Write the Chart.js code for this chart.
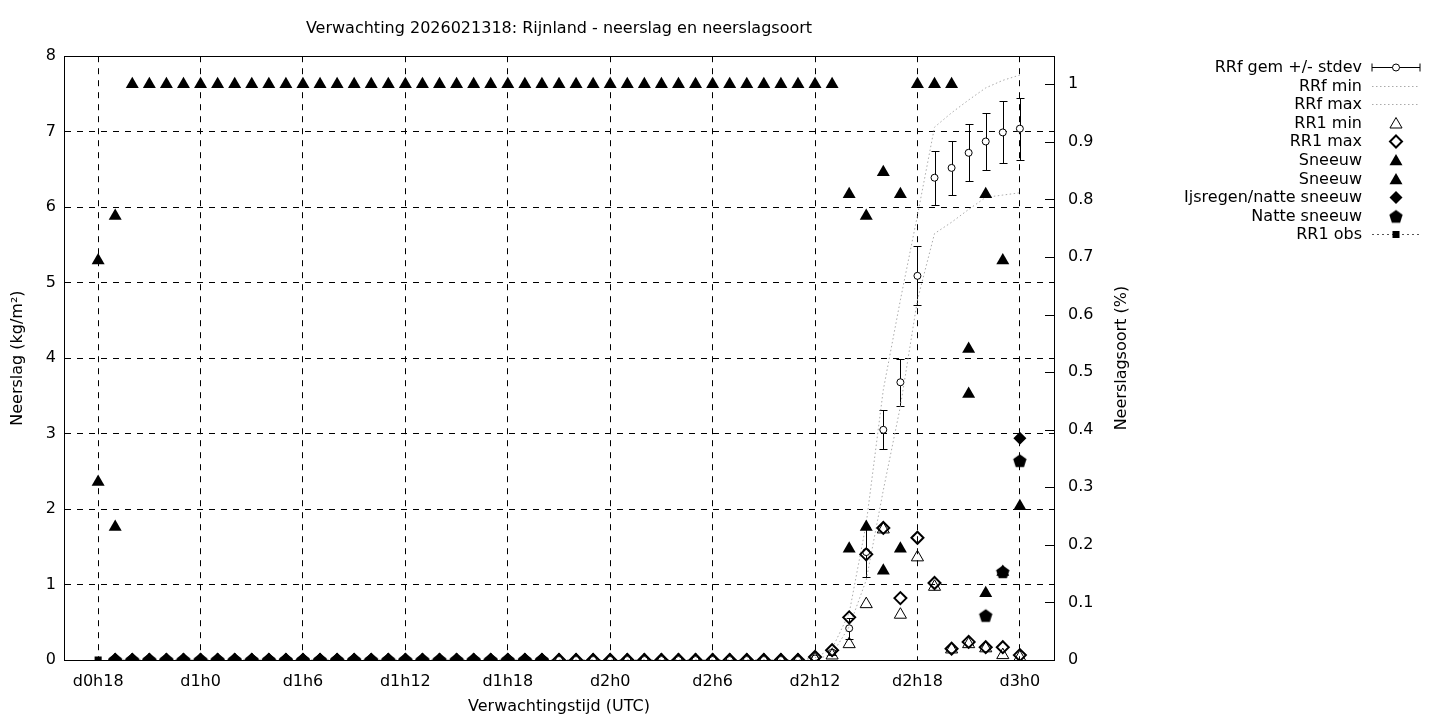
<!DOCTYPE html>
<html>
<head>
<meta charset="utf-8">
<script src="https://cdn.jsdelivr.net/npm/chart.js@4"></script>
<style>
html, body { margin: 0; padding: 0; background: #fff; }
</style>
</head>
<body>
<canvas id="chart" width="1440" height="720"></canvas>
<script>
// uren na d0h18 (categorieen)
const hours = Array.from({length: 55}, (_, i) => i);
const tickHours = [0, 6, 12, 18, 24, 30, 36, 42, 48, 54];
const tickLabels = ['d0h18', 'd1h0', 'd1h6', 'd1h12', 'd1h18', 'd2h0', 'd2h6', 'd2h12', 'd2h18', 'd3h0'];
const y2Ticks = [0, 0.1, 0.2, 0.3, 0.4, 0.5, 0.6, 0.7, 0.8, 0.9, 1];

// RRf gem +/- stdev (kg/m2)
const rrfGem = [
  null, 0, 0, 0, 0, 0, 0, 0, 0, 0,
  0, 0, 0, 0, 0, 0, 0, 0, 0, 0,
  0, 0, 0, 0, 0, 0, 0, 0, 0, 0,
  0, 0, 0, 0, 0, 0, 0, 0, 0, 0,
  0, 0, 0.02, 0.10, 0.42, 1.43, 3.05, 3.68, 5.09, 6.39,
  6.52, 6.72, 6.87, 6.99, 7.04
];
const rrfSd = [
  null, 0, 0, 0, 0, 0, 0, 0, 0, 0,
  0, 0, 0, 0, 0, 0, 0, 0, 0, 0,
  0, 0, 0, 0, 0, 0, 0, 0, 0, 0,
  0, 0, 0, 0, 0, 0, 0, 0, 0, 0,
  0, 0, 0, 0.03, 0.14, 0.33, 0.26, 0.31, 0.39, 0.36,
  0.36, 0.38, 0.38, 0.41, 0.41
];
const rrfMin = [
  null, 0, 0, 0, 0, 0, 0, 0, 0, 0,
  0, 0, 0, 0, 0, 0, 0, 0, 0, 0,
  0, 0, 0, 0, 0, 0, 0, 0, 0, 0,
  0, 0, 0, 0, 0, 0, 0, 0, 0, 0,
  0, 0, 0, 0.08, 0.44, 1.06, 2.25, 3.36, 4.77, 5.65,
  5.80, 5.97, 6.13, 6.16, 6.19
];
const rrfMax = [
  null, 0, 0, 0, 0, 0, 0, 0, 0, 0,
  0, 0, 0, 0, 0, 0, 0, 0, 0, 0,
  0, 0, 0, 0, 0, 0, 0, 0, 0, 0,
  0, 0, 0, 0, 0, 0, 0, 0, 0, 0,
  0, 0, 0.03, 0.15, 0.62, 1.81, 3.58, 4.77, 5.89, 7.06,
  7.25, 7.42, 7.58, 7.68, 7.75
];
const rr1Min = [
  null, 0, 0, 0, 0, 0, 0, 0, 0, 0,
  0, 0, 0, 0, 0, 0, 0, 0, 0, 0,
  0, 0, 0, 0, 0, 0, 0, 0, 0, 0,
  0, 0, 0, 0, 0, 0, 0, 0, 0, 0,
  0, 0, 0.01, 0.06, 0.21, 0.74, 1.73, 0.60, 1.36, 0.97,
  0.14, 0.21, 0.155, 0.065, 0.035
];
const rr1Max = [
  null, 0, 0, 0, 0, 0, 0, 0, 0, 0,
  0, 0, 0, 0, 0, 0, 0, 0, 0, 0,
  0, 0, 0, 0, 0, 0, 0, 0, 0, 0,
  0, 0, 0, 0, 0, 0, 0, 0, 0, 0,
  0, 0, 0.04, 0.13, 0.565, 1.40, 1.75, 0.82, 1.62, 1.02,
  0.15, 0.24, 0.17, 0.17, 0.065
];
// neerslagsoort (fractie, rechter as)
const sneeuw1 = [
  0.694, 0.771, 1, 1, 1, 1, 1, 1, 1, 1,
  1, 1, 1, 1, 1, 1, 1, 1, 1, 1,
  1, 1, 1, 1, 1, 1, 1, 1, 1, 1,
  1, 1, 1, 1, 1, 1, 1, 1, 1, 1,
  1, 1, 1, 1, 0.809, 0.771, 0.847, 0.809, 1, 1,
  1, 0.540, 0.809, 0.694, 0.267
];
const sneeuw2 = [
  0.309, 0.231, null, null, null, null, null, null, null, null,
  null, null, null, null, null, null, null, null, null, null,
  null, null, null, null, null, null, null, null, null, null,
  null, null, null, null, null, null, null, null, null, null,
  null, null, null, null, 0.193, 0.231, 0.155, 0.193, null, null,
  null, 0.462, 0.116, 0.153, null
];
const ijsregen = [
  null, 0, 0, 0, 0, 0, 0, 0, 0, 0,
  0, 0, 0, 0, 0, 0, 0, 0, 0, 0,
  0, 0, 0, 0, 0, 0, 0, null, null, null,
  null, null, null, null, null, null, null, null, null, null,
  null, null, null, null, null, null, null, null, null, null,
  null, null, null, null, 0.385
];
const natteSneeuw = [
  null, 0, 0, 0, 0, 0, 0, 0, 0, 0,
  0, 0, 0, 0, 0, 0, 0, 0, 0, 0,
  0, 0, 0, 0, 0, 0, 0, null, null, null,
  null, null, null, null, null, null, null, null, null, null,
  null, null, null, null, null, null, null, null, null, null,
  null, null, 0.077, 0.153, 0.346
];
const rr1Obs = [0];

Chart.defaults.font.family = 'DejaVu Sans';
Chart.defaults.font.size = 16;
Chart.defaults.color = '#000';

function xy(arr) {
  return hours.map((h, i) => ({x: h, y: arr[i] === undefined ? null : arr[i]}));
}

function pentagonPoint(r) {
  const c = document.createElement('canvas');
  c.width = c.height = Math.ceil(2 * r + 2);
  const g = c.getContext('2d');
  const m = c.width / 2;
  g.beginPath();
  for (let k = 0; k < 5; k++) {
    const a = -Math.PI / 2 + k * 2 * Math.PI / 5;
    const px = m + r * Math.cos(a), py = m + r * Math.sin(a) + 0.5;
    if (k === 0) g.moveTo(px, py); else g.lineTo(px, py);
  }
  g.closePath();
  g.fillStyle = '#000';
  g.fill();
  return c;
}
const pent = pentagonPoint(7);

const errorBars = {
  id: 'errorBars',
  beforeDatasetsDraw(chart) {
    const {ctx, scales: {x, y}} = chart;
    ctx.save();
    ctx.strokeStyle = '#000';
    ctx.lineWidth = 1;
    hours.forEach((h, i) => {
      if (rrfGem[i] == null || !rrfSd[i]) return;
      const px = Math.round(x.getPixelForValue(h)) + 0.5;
      const top = Math.round(y.getPixelForValue(rrfGem[i] + rrfSd[i])) + 0.5;
      const bot = Math.round(y.getPixelForValue(rrfGem[i] - rrfSd[i])) + 0.5;
      ctx.beginPath();
      ctx.moveTo(px, top); ctx.lineTo(px, bot);
      ctx.moveTo(px - 4, top); ctx.lineTo(px + 4, top);
      ctx.moveTo(px - 4, bot); ctx.lineTo(px + 4, bot);
      ctx.stroke();
    });
    ctx.restore();
  }
};

const legendRows = ['RRf gem +/- stdev', 'RRf min', 'RRf max', 'RR1 min', 'RR1 max',
  'Sneeuw', 'Sneeuw', 'Ijsregen/natte sneeuw', 'Natte sneeuw', 'RR1 obs'];

function tri(ctx, cx, cy, r) {
  ctx.beginPath();
  ctx.moveTo(cx, cy - r);
  ctx.lineTo(cx + 0.866 * r, cy + 0.5 * r);
  ctx.lineTo(cx - 0.866 * r, cy + 0.5 * r);
  ctx.closePath();
}
function dia(ctx, cx, cy, r) {
  ctx.beginPath();
  ctx.moveTo(cx, cy - r); ctx.lineTo(cx + r, cy);
  ctx.lineTo(cx, cy + r); ctx.lineTo(cx - r, cy);
  ctx.closePath();
}

const frameAndLegend = {
  id: 'frameAndLegend',
  afterDraw(chart) {
    const {ctx, chartArea: a} = chart;
    const y2 = chart.scales.y2;
    ctx.save();
    ctx.strokeStyle = '#000';
    ctx.lineWidth = 1;
    ctx.setLineDash([]);
    ctx.strokeRect(Math.round(a.left) + 0.5, Math.round(a.top) + 0.5,
      Math.round(a.right - a.left), Math.round(a.bottom - a.top));
    // y2 ticks naar binnen
    ctx.beginPath();
    y2Ticks.forEach(v => {
      const py = Math.round(y2.getPixelForValue(v)) + 0.5;
      ctx.moveTo(a.right - 9, py); ctx.lineTo(a.right, py);
    });
    ctx.stroke();

    // titel rechter as (van onder naar boven)
    ctx.save();
    ctx.font = '16px "DejaVu Sans"';
    ctx.fillStyle = '#000';
    ctx.textAlign = 'center';
    ctx.textBaseline = 'middle';
    ctx.translate(a.right + 68, (a.top + a.bottom) / 2);
    ctx.rotate(-Math.PI / 2);
    ctx.fillText('Neerslagsoort (%)', 0, 0);
    ctx.restore();

    // legenda
    const tx = 1362, x0 = 1372, x1 = 1420, xm = 1396;
    ctx.font = '16px "DejaVu Sans"';
    ctx.textAlign = 'right';
    ctx.textBaseline = 'middle';
    ctx.fillStyle = '#000';
    legendRows.forEach((name, i) => {
      const yy = Math.round(67 + i * 18.6) + 0.5;
      ctx.fillText(name, tx, yy);
      ctx.save();
      ctx.strokeStyle = '#000';
      ctx.fillStyle = '#000';
      ctx.lineWidth = 1;
      if (i === 0) {
        ctx.beginPath();
        ctx.moveTo(x0, yy); ctx.lineTo(x1, yy);
        ctx.moveTo(x0, yy - 4); ctx.lineTo(x0, yy + 4);
        ctx.moveTo(x1, yy - 4); ctx.lineTo(x1, yy + 4);
        ctx.stroke();
        ctx.beginPath();
        ctx.arc(xm, yy, 3.5, 0, Math.PI * 2);
        ctx.fillStyle = '#fff'; ctx.fill(); ctx.stroke();
      } else if (i === 1 || i === 2) {
        ctx.strokeStyle = '#aaa';
        ctx.setLineDash([1.5, 2.5]);
        ctx.beginPath(); ctx.moveTo(x0, yy); ctx.lineTo(x1, yy); ctx.stroke();
      } else if (i === 3) {
        tri(ctx, xm, yy + 1, 7); ctx.stroke();
      } else if (i === 4) {
        ctx.lineWidth = 2; dia(ctx, xm, yy, 6); ctx.stroke();
      } else if (i === 5 || i === 6) {
        tri(ctx, xm, yy + 1, 7.5); ctx.fill();
      } else if (i === 7) {
        dia(ctx, xm, yy, 6.5); ctx.fill();
      } else if (i === 8) {
        ctx.drawImage(pent, xm - pent.width / 2, yy - pent.height / 2);
      } else {
        ctx.strokeStyle = '#555';
        ctx.setLineDash([2, 3]);
        ctx.beginPath(); ctx.moveTo(x0, yy); ctx.lineTo(x1, yy); ctx.stroke();
        ctx.fillRect(xm - 3.5, yy - 3.5, 7, 7);
      }
      ctx.restore();
    });
    ctx.restore();
  }
};

const ctx = document.getElementById('chart');
const chartGraph = new Chart(ctx, {
  type: 'scatter',
  data: {
    datasets: [
      {
        label: 'RRf gem +/- stdev', data: xy(rrfGem), yAxisID: 'y', order: 10,
        pointStyle: 'circle', pointRadius: 3.5, borderWidth: 1,
        borderColor: '#000', backgroundColor: '#fff', showLine: false
      },
      {
        label: 'RRf min', data: xy(rrfMin), yAxisID: 'y', order: 9, showLine: true,
        pointRadius: 0, borderColor: '#aaa', borderWidth: 1, borderDash: [1.5, 2.5], fill: false
      },
      {
        label: 'RRf max', data: xy(rrfMax), yAxisID: 'y', order: 8, showLine: true,
        pointRadius: 0, borderColor: '#aaa', borderWidth: 1, borderDash: [1.5, 2.5], fill: false
      },
      {
        label: 'RR1 min', data: xy(rr1Min), yAxisID: 'y', order: 7,
        pointStyle: 'triangle', pointRadius: 7, borderWidth: 1,
        borderColor: '#000', backgroundColor: 'rgba(0,0,0,0)'
      },
      {
        label: 'RR1 max', data: xy(rr1Max), yAxisID: 'y', order: 6,
        pointStyle: 'rectRot', pointRadius: 6, borderWidth: 2,
        borderColor: '#000', backgroundColor: 'rgba(0,0,0,0)'
      },
      {
        label: 'Sneeuw', data: xy(sneeuw1), yAxisID: 'y2', order: 5,
        pointStyle: 'triangle', pointRadius: 7.5, borderWidth: 0,
        borderColor: '#000', backgroundColor: '#000'
      },
      {
        label: 'Sneeuw', data: xy(sneeuw2), yAxisID: 'y2', order: 4,
        pointStyle: 'triangle', pointRadius: 7.5, borderWidth: 0,
        borderColor: '#000', backgroundColor: '#000'
      },
      {
        label: 'Ijsregen/natte sneeuw', data: xy(ijsregen), yAxisID: 'y2', order: 3,
        pointStyle: 'rectRot', pointRadius: 6.5, borderWidth: 0,
        borderColor: '#000', backgroundColor: '#000'
      },
      {
        label: 'Natte sneeuw', data: xy(natteSneeuw), yAxisID: 'y2', order: 2,
        pointStyle: pent, pointRadius: 7
      },
      {
        label: 'RR1 obs', data: xy(rr1Obs), yAxisID: 'y', order: 1,
        pointStyle: 'rect', pointRadius: 5, borderWidth: 0,
        borderColor: '#000', backgroundColor: '#000', showLine: true, borderDash: [2, 3]
      }
    ]
  },
  options: {
    responsive: false,
    animation: false,
    devicePixelRatio: 1,
    layout: { padding: { left: 0, right: 306, top: 0, bottom: 0 } },
    plugins: {
      legend: { display: false },
      tooltip: { enabled: false },
      title: {
        display: true, fullSize: false,
        text: 'Verwachting 2026021318: Rijnland - neerslag en neerslagsoort',
        color: '#000', font: { size: 16, weight: 'normal' },
        padding: { top: 19, bottom: 18 }
      }
    },
    scales: {
      x: {
        type: 'linear', min: -2, max: 56, position: 'bottom',
        afterBuildTicks: s => { s.ticks = tickHours.map(v => ({value: v})); },
        afterFit: s => { s.height = 60; },
        ticks: { callback: (v, i) => tickLabels[i], padding: 12, maxRotation: 0, autoSkip: false },
        grid: { color: '#000', lineWidth: 1, drawTicks: false },
        border: { display: true, color: '#000', width: 1, dash: [6, 6] },
        title: { display: true, text: 'Verwachtingstijd (UTC)', padding: { top: 0, bottom: 4 } }
      },
      y: {
        position: 'left', min: 0, max: 8,
        afterFit: s => { s.width = 64; },
        ticks: { stepSize: 1, padding: 8 },
        grid: { color: '#000', lineWidth: 1, drawTicks: false },
        border: { display: true, color: '#000', width: 1, dash: [6, 6] },
        title: { display: true, text: 'Neerslag (kg/m²)', padding: { top: 8, bottom: 0 } }
      },
      y2: {
        position: 'right', min: 0, max: 1.0486,
        afterBuildTicks: s => { s.ticks = y2Ticks.map(v => ({value: v})); },
        afterFit: s => { s.width = 80; },
        ticks: { callback: v => String(Math.round(v * 10) / 10), padding: 14 },
        grid: { drawOnChartArea: false, drawTicks: false },
        border: { display: true, color: '#000', width: 1 },
        title: { display: false }
      }
    }
  },
  plugins: [errorBars, frameAndLegend]
});
</script>
</body>
</html>
